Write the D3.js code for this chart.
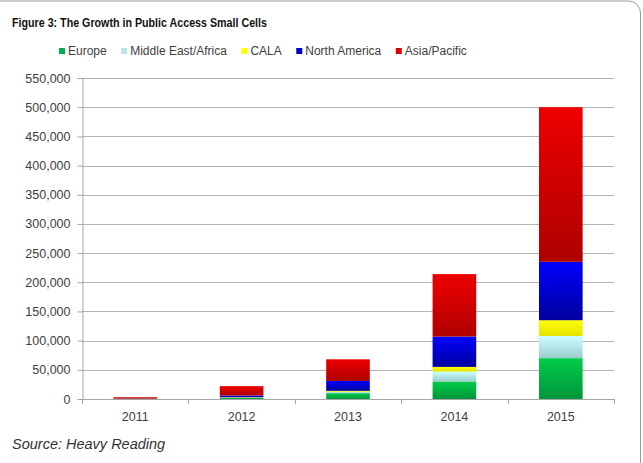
<!DOCTYPE html>
<html>
<head>
<meta charset="utf-8">
<script src="https://cdn.jsdelivr.net/npm/d3@7"></script>
<style>
  body { margin: 0; background: #fff; }
  svg { display: block; }
  text { font-family: "Liberation Sans", Arial, sans-serif; fill: #404040; }
</style>
</head>
<body>
<svg id="chart" width="643" height="463"></svg>
<script>
//// DATA
const years = ["2011", "2012", "2013", "2014", "2015"];
const regions = ["Europe", "Middle East/Africa", "CALA", "North America", "Asia/Pacific"];
const europe = [200, 2000, 10000, 30000, 70000];
const middleEastAfrica = [50, 500, 2500, 17000, 38000];
const cala = [50, 500, 1500, 8000, 27000];
const northAmerica = [300, 3000, 17000, 52000, 100000];
const asiaPacific = [2400, 16000, 37000, 107000, 265000];
const yTicks = [0, 50000, 100000, 150000, 200000, 250000, 300000, 350000, 400000, 450000, 500000, 550000];

// colours: [top, bottom] of each bar's gradient, plus legend swatch
const colors = {
    "Europe": ["#00cc4a", "#00963a", "#00b050"],
    "Middle East/Africa": ["#ccffff", "#99cccc", "#b7e6e6"],
    "CALA": ["#ffff00", "#e3e300", "#ffff00"],
    "North America": ["#0000ff", "#00009e", "#0000cc"],
    "Asia/Pacific": ["#ee0000", "#ae0000", "#dd0000"]
};

//// SETUP
const svg = d3.select("#chart");
const margin = { left: 82, right: 614, top: 78, bottom: 399 };

const table = years.map((y, i) => ({
    year: y,
    "Europe": europe[i],
    "Middle East/Africa": middleEastAfrica[i],
    "CALA": cala[i],
    "North America": northAmerica[i],
    "Asia/Pacific": asiaPacific[i]
}));
const stacked = d3.stack().keys(regions)(table);

const x = d3.scaleBand().domain(years).range([margin.left, margin.right])
    .paddingInner(0.59).paddingOuter(0.295);
const y = d3.scaleLinear().domain([0, 550000]).range([margin.bottom, margin.top]);

// outer frame, only the top-right corner and right side show
svg.append("rect")
    .attr("x", -20).attr("y", 1)
    .attr("width", 660.5).attr("height", 500)
    .attr("rx", 12)
    .style("fill", "none")
    .style("stroke", "#9a9a9a")
    .style("stroke-width", 1);

// gradients
const defs = svg.append("defs");
regions.forEach((r, i) => {
    const g = defs.append("linearGradient")
        .attr("id", "grad" + i)
        .attr("x1", 0).attr("y1", 0).attr("x2", 0).attr("y2", 1);
    g.append("stop").attr("offset", "0%").attr("stop-color", colors[r][0]);
    g.append("stop").attr("offset", "100%").attr("stop-color", colors[r][1]);
});

// title
svg.append("text")
    .attr("x", 12).attr("y", 27)
    .attr("textLength", 255).attr("lengthAdjust", "spacingAndGlyphs")
    .style("font-size", "13px").style("font-weight", "bold")
    .style("fill", "#111")
    .text("Figure 3: The Growth in Public Access Small Cells");

// gridlines
svg.append("g").selectAll("line")
    .data(yTicks.filter(d => d > 0))
    .enter().append("line")
    .attr("x1", margin.left).attr("x2", margin.right)
    .attr("y1", d => Math.round(y(d)) + 0.5).attr("y2", d => Math.round(y(d)) + 0.5)
    .style("stroke", "#b4b4b4").style("stroke-width", 1);

// y axis
const yAxis = svg.append("g")
    .attr("transform", `translate(${margin.left + 0.5},0)`)
    .call(d3.axisLeft(y).tickValues(yTicks).tickSize(5).tickPadding(7)
        .tickFormat(d3.format(",")));
yAxis.select(".domain").style("stroke", "#a6a6a6");
yAxis.selectAll(".tick line").style("stroke", "#a6a6a6");
yAxis.selectAll("text").style("font-size", "12.5px").style("font-family", "'Liberation Sans', Arial, sans-serif").style("fill", "#404040");

// bars
svg.append("g").selectAll("g")
    .data(stacked)
    .enter().append("g")
    .attr("fill", (d, i) => "url(#grad" + i + ")")
    .selectAll("rect")
    .data(d => d)
    .enter().append("rect")
    .attr("x", d => x(d.data.year))
    .attr("width", x.bandwidth())
    .attr("y", d => y(d[1]))
    .attr("height", d => Math.max(0, y(d[0]) - y(d[1])));

// x axis
const bounds = d3.range(years.length + 1).map(i => margin.left + i * x.step());
const xAxis = svg.append("g");
xAxis.append("line")
    .attr("x1", margin.left).attr("x2", margin.right)
    .attr("y1", margin.bottom + 0.5).attr("y2", margin.bottom + 0.5)
    .style("stroke", "#a6a6a6");
xAxis.selectAll(".xt")
    .data(bounds)
    .enter().append("line")
    .attr("class", "xt")
    .attr("x1", d => Math.round(d) + 0.5).attr("x2", d => Math.round(d) + 0.5)
    .attr("y1", margin.bottom).attr("y2", margin.bottom + 5)
    .style("stroke", "#a6a6a6");
xAxis.selectAll("text")
    .data(years)
    .enter().append("text")
    .attr("x", d => x(d) + x.bandwidth() / 2)
    .attr("y", 421)
    .attr("text-anchor", "middle")
    .style("font-size", "12.5px")
    .text(d => d);

// legend
const legend = svg.append("g");
let lx = 59;
regions.forEach(r => {
    legend.append("rect")
        .attr("x", lx).attr("y", 48)
        .attr("width", 6).attr("height", 6)
        .style("fill", colors[r][2]);
    const t = legend.append("text")
        .attr("x", lx + 9).attr("y", 55)
        .style("font-size", "12px")
        .text(r);
    lx += 9 + t.node().getComputedTextLength() + 14.5;
});

// source
svg.append("text")
    .attr("x", 12).attr("y", 449)
    .style("font-size", "14.5px").style("font-style", "italic")
    .style("fill", "#333")
    .text("Source: Heavy Reading");
</script>
</body>
</html>
